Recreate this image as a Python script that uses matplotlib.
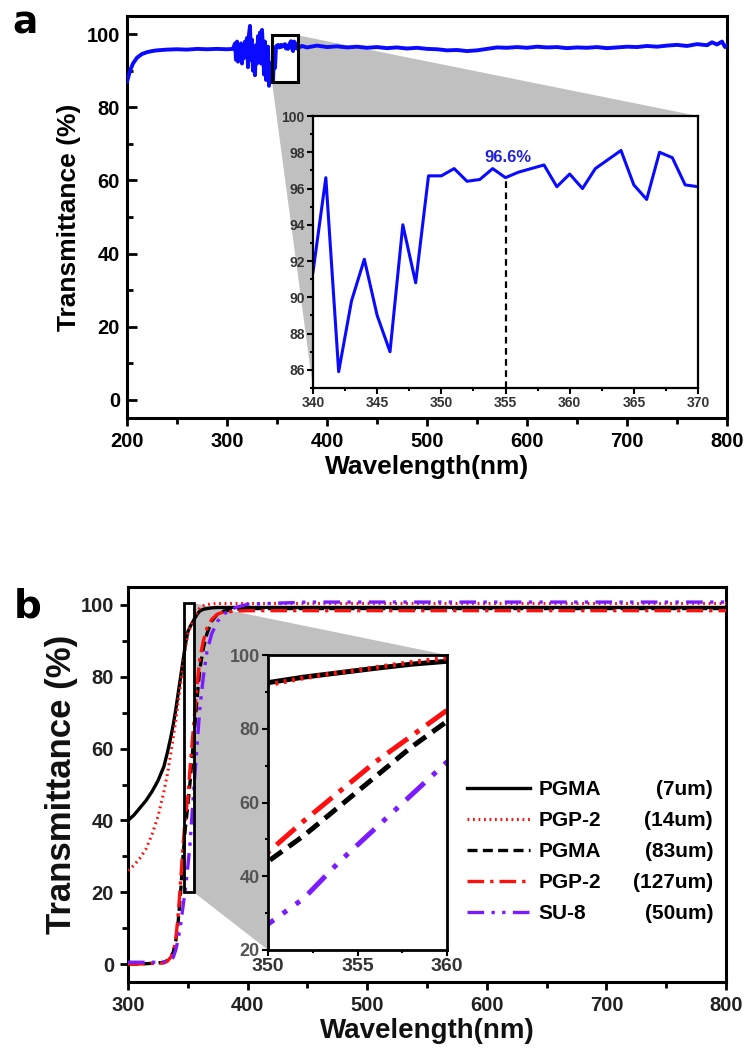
import matplotlib.pyplot as plt
from matplotlib.patches import Polygon, Rectangle
from matplotlib.ticker import MultipleLocator

plt.rcParams['font.family'] = ['Liberation Sans', 'DejaVu Sans']
plt.rcParams['font.weight'] = 'bold'
plt.rcParams['axes.labelweight'] = 'bold'

W, H = 748, 1048

# ---- panel a : full spectrum
wl_a_left = [200, 203, 206, 210, 215, 220, 225, 230, 240, 250, 260, 270, 280, 290, 300, 306,
             308, 309, 310, 311, 312, 313, 314, 315, 316, 317, 318, 319, 320, 321, 322, 323,
             324, 325, 326, 327, 328, 329, 330, 331, 332, 333, 334, 335, 336, 337, 338, 339]
t_a_left = [87.0, 90.0, 92.0, 93.6, 94.6, 95.1, 95.4, 95.6, 95.8, 95.9, 95.8, 96.0, 95.9, 96.0, 95.9, 96.0,
            97.5, 93.0, 98.0, 92.5, 96.0, 94.0, 97.5, 92.0, 96.5, 93.5, 98.0, 95.0, 99.0, 91.0, 100.0, 102.3,
            93.0, 98.5, 90.0, 96.0, 88.8, 97.0, 92.0, 99.5, 94.0, 100.5, 92.0, 101.2, 96.0, 89.0, 98.0, 87.5]
wl_a_right = [375, 380, 390, 400, 410, 420, 430, 440, 450, 460, 470, 480, 490, 500, 510, 520, 530, 540,
              550, 560, 570, 580, 590, 600, 610, 620, 630, 640, 650, 660, 670, 680, 690, 700, 710, 720,
              730, 740, 750, 760, 770, 780, 785, 790, 795, 798, 800]
t_a_right = [96.8, 96.4, 96.9, 96.5, 96.7, 96.4, 96.6, 96.3, 96.5, 96.2, 96.4, 96.1, 96.3, 96.0, 95.9, 95.6,
             95.7, 95.4, 95.6, 96.0, 96.4, 96.3, 96.5, 96.3, 96.6, 96.4, 96.5, 96.2, 96.4, 96.3, 96.5, 96.2,
             96.4, 96.6, 96.5, 96.8, 96.6, 96.9, 97.1, 96.8, 97.3, 97.0, 97.8, 97.2, 98.0, 96.5, 97.0]

# ---- panel a : zoom 340-370 nm
wl_zoom = list(range(340, 371))
t_zoom = [91.4, 96.6, 85.9, 89.8, 92.1, 89.0, 87.0, 94.0, 90.8, 96.7, 96.7, 97.1, 96.4, 96.5, 97.1, 96.6,
          96.9, 97.1, 97.3, 96.1, 96.8, 96.0, 97.1, 97.6, 98.1, 96.2, 95.4, 98.0, 97.7, 96.2, 96.1]
mark_wl = 355
mark_t = 96.6

wl_a = wl_a_left + wl_zoom + wl_a_right
t_a = t_a_left + t_zoom + t_a_right

# ---- panel b : five films
wl_b = [300, 305, 310, 315, 320, 325, 330, 333, 336, 338, 340, 342, 344, 346, 348, 350, 352, 354,
        356, 358, 360, 363, 366, 370, 375, 380, 390, 400, 450, 500, 550, 600, 650, 700, 750, 800]
pgma_7 = [40.0, 41.5, 43.5, 45.5, 48.0, 51.0, 55.0, 59.0, 63.5, 67.0, 71.0, 75.5, 80.0, 84.5, 89.0, 92.5,
          94.0, 95.2, 96.4, 97.5, 98.3, 98.8, 99.0, 99.2, 99.3, 99.3, 99.3, 99.3, 99.3, 99.3, 99.3, 99.3,
          99.3, 99.3, 99.3, 99.3]
pgp2_14 = [26.0, 27.5, 29.5, 32.0, 36.0, 41.0, 48.0, 53.0, 59.0, 63.5, 68.0, 73.0, 78.0, 83.0, 88.0, 91.9,
           93.8, 95.2, 96.6, 98.0, 99.2, 99.8, 100.1, 100.3, 100.4, 100.4, 100.4, 100.4, 100.4, 100.4, 100.4,
           100.4, 100.4, 100.4, 100.4, 100.4]
pgma_83 = [0.0, 0.0, 0.0, 0.1, 0.2, 0.3, 0.5, 1.0, 2.0, 3.5, 6.5, 12.0, 20.0, 30.0, 38.0, 44.0,
           51.0, 59.0, 67.0, 75.0, 82.0, 88.0, 92.0, 95.5, 97.5, 98.3, 98.8, 99.0, 99.0, 99.0, 99.0, 99.0,
           99.0, 99.0, 99.0, 99.0]
pgp2_127 = [0.0, 0.0, 0.0, 0.1, 0.2, 0.2, 0.3, 0.8, 2.0, 3.5, 7.0, 14.0, 23.0, 33.0, 41.0, 46.5,
            55.0, 63.0, 71.0, 78.0, 85.0, 90.0, 93.5, 96.0, 97.5, 98.0, 98.3, 98.4, 98.4, 98.4, 98.4, 98.4,
            98.4, 98.4, 98.4, 98.4]
su8_50 = [0.5, 0.5, 0.5, 0.5, 0.5, 0.5, 0.6, 0.8, 1.0, 2.0, 4.0, 7.0, 11.0, 16.0, 21.0, 27.0,
          34.0, 44.0, 53.0, 62.0, 71.0, 80.0, 87.0, 92.0, 95.5, 97.5, 99.3, 100.2, 100.8, 100.8, 100.8,
          100.8, 100.8, 100.8, 100.8, 100.8]

names = ['PGMA', 'PGP-2', 'PGMA', 'PGP-2', 'SU-8']
thick = ['(7um)', '(14um)', '(83um)', '(127um)', '(50um)']
series_b = [pgma_7, pgp2_14, pgma_83, pgp2_127, su8_50]
colors_b = ['black', '#ff1010', 'black', '#ff1010', '#7a1cff']
styles_b = ['-', (0, (0.6, 1.2)), (0, (3.0, 1.6)), (0, (5.0, 1.8, 1.0, 1.8)),
            (0, (5.0, 2.2, 1.0, 2.2, 1.0, 2.2))]
widths_b = [2.4, 2.2, 2.4, 2.4, 2.4]


def fig_box(left, top, right, bottom):
    return [left / W, 1 - bottom / H, (right - left) / W, (bottom - top) / H]


def to_data(ax, inset, xy):
    return ax.transData.inverted().transform(inset.transAxes.transform(xy))


def style_frame(ax, lw):
    for s in ax.spines.values():
        s.set_linewidth(lw)


fig = plt.figure(figsize=(W / 100, H / 100), dpi=100)

# ================= panel a
axA = fig.add_axes(fig_box(127, 16, 727, 418))
axA.plot(wl_a, t_a, color='#0a0aff', lw=2.8, zorder=3)
axA.set_xlim(200, 800)
axA.set_ylim(-5, 105)
axA.xaxis.set_major_locator(MultipleLocator(100))
axA.xaxis.set_minor_locator(MultipleLocator(50))
axA.yaxis.set_major_locator(MultipleLocator(20))
axA.yaxis.set_minor_locator(MultipleLocator(10))
axA.tick_params(axis='x', which='major', direction='out', length=6, width=2, labelsize=14.5, pad=4)
axA.tick_params(axis='x', which='minor', direction='out', length=4, width=2)
axA.tick_params(axis='y', which='major', direction='in', length=7, width=2, labelsize=14.5, pad=5)
axA.tick_params(axis='y', which='minor', direction='in', length=4, width=2)
style_frame(axA, 2.2)
axA.set_xlabel('Wavelength(nm)', fontsize=19, labelpad=3)
axA.set_ylabel('Transmittance (%)', fontsize=19, labelpad=4)

box_a = (345, 87.0, 371, 99.7)
axA.add_patch(Rectangle((box_a[0], box_a[1]), box_a[2] - box_a[0], box_a[3] - box_a[1],
                        fill=False, ec='black', lw=2.2, zorder=4))

insA = fig.add_axes(fig_box(313, 116, 698, 388))
insA.plot(wl_zoom, t_zoom, color='#0a0aff', lw=2.2)
insA.vlines(mark_wl, 85, mark_t, colors='black', linestyles=(0, (3, 2)), lw=1.6)
insA.text(mark_wl + 0.2, mark_t + 0.7, f'{mark_t}%', color='#2222dd', fontsize=12,
          ha='center', va='bottom')
insA.set_xlim(340, 370)
insA.set_ylim(85, 100)
insA.xaxis.set_major_locator(MultipleLocator(5))
insA.xaxis.set_minor_locator(MultipleLocator(2.5))
insA.yaxis.set_major_locator(MultipleLocator(2))
insA.yaxis.set_minor_locator(MultipleLocator(1))
insA.tick_params(which='major', direction='out', length=4, width=1.5, labelsize=10,
                 labelcolor='#333333', pad=2)
insA.tick_params(which='minor', direction='out', length=2.5, width=1.5)
style_frame(insA, 1.6)

tr = to_data(axA, insA, (1, 1))
bl = to_data(axA, insA, (0, 0))
axA.add_patch(Polygon([(box_a[2], box_a[3]), tr, bl, (box_a[0], box_a[1]), (box_a[2], box_a[1])],
                      closed=True, fc='#c0c0c0', ec='none', zorder=1))

fig.text(25 / W, 1 - 24 / H, 'a', fontsize=27, fontweight='bold', family='DejaVu Sans',
         ha='center', va='center')

# ================= panel b
axB = fig.add_axes(fig_box(128, 587, 726, 982))
lines = []
for y, c, ls, lw in zip(series_b, colors_b, styles_b, widths_b):
    ln, = axB.plot(wl_b, y, color=c, ls=ls, lw=lw, zorder=3)
    lines.append(ln)
axB.set_xlim(300, 800)
axB.set_ylim(-5, 105)
axB.xaxis.set_major_locator(MultipleLocator(100))
axB.xaxis.set_minor_locator(MultipleLocator(50))
axB.yaxis.set_major_locator(MultipleLocator(20))
axB.yaxis.set_minor_locator(MultipleLocator(10))
axB.tick_params(which='major', direction='out', length=6, width=2, labelsize=14.5, pad=4,
                labelcolor='#222222')
axB.tick_params(which='minor', direction='out', length=4, width=2)
style_frame(axB, 2.2)
axB.set_xlabel('Wavelength(nm)', fontsize=20, labelpad=2, color='#111111')
axB.set_ylabel('Transmittance (%)', fontsize=25, labelpad=2, color='#111111')

box_b = (347, 20.0, 355, 100.5)
axB.add_patch(Rectangle((box_b[0], box_b[1]), box_b[2] - box_b[0], box_b[3] - box_b[1],
                        fill=False, ec='black', lw=2.0, zorder=4))

insB = fig.add_axes(fig_box(268, 655, 447, 950))
for y, c, ls, lw in zip(series_b, colors_b, styles_b, widths_b):
    insB.plot(wl_b, y, color=c, ls=ls, lw=lw + 1.2)
insB.set_xlim(350, 360)
insB.set_ylim(20, 100)
insB.xaxis.set_major_locator(MultipleLocator(5))
insB.xaxis.set_minor_locator(MultipleLocator(2.5))
insB.yaxis.set_major_locator(MultipleLocator(20))
insB.yaxis.set_minor_locator(MultipleLocator(10))
insB.tick_params(axis='y', which='major', direction='out', length=4, width=1.5, labelsize=13,
                 labelcolor='#555555', pad=2)
insB.tick_params(axis='x', which='major', direction='out', length=4, width=1.5, labelsize=14,
                 labelcolor='#333333', pad=2)
insB.tick_params(which='minor', direction='out', length=2.5, width=1.5)
style_frame(insB, 2.0)

tr = to_data(axB, insB, (1, 1))
bl = to_data(axB, insB, (0, 0))
axB.add_patch(Polygon([(box_b[2], box_b[3]), tr, bl, (box_b[2], box_b[1])],
                      closed=True, fc='#c0c0c0', ec='none', zorder=1))

leg = axB.legend(lines, names, loc='upper left', bbox_to_anchor=(467 / W, 1 - 780 / H),
                 bbox_transform=fig.transFigure, frameon=False, borderpad=0, borderaxespad=0,
                 handlelength=3.0, handletextpad=0.45, labelspacing=0.58,
                 prop={'size': 15, 'weight': 'bold'})

fig.text(28 / W, 1 - 607 / H, 'b', fontsize=28, fontweight='bold', family='DejaVu Sans',
         ha='center', va='center')

fig.canvas.draw()
renderer = fig.canvas.get_renderer()
for txt, th in zip(leg.get_texts(), thick):
    bb = txt.get_window_extent(renderer)
    fig.text(713 / W, (bb.y0 + bb.y1) / 2 / fig.bbox.height, th, fontsize=15,
             fontweight='bold', ha='right', va='center')

fig.savefig('out.png', dpi=100)
